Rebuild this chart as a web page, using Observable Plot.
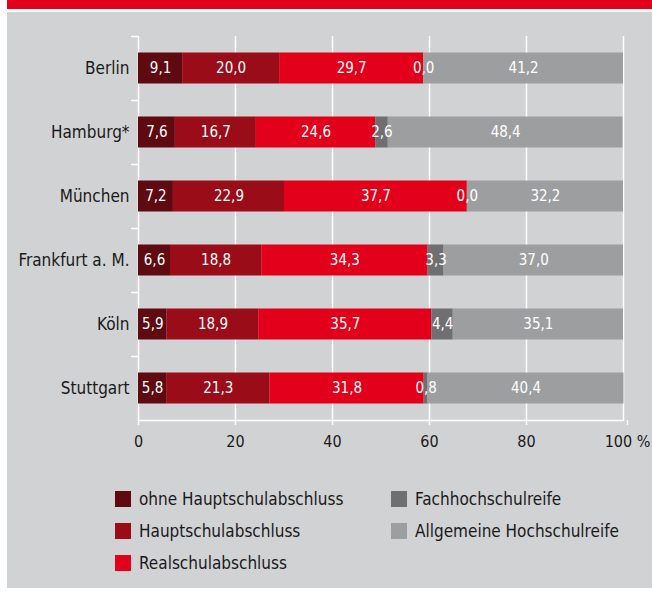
<!DOCTYPE html>
<html>
<head>
<meta charset="utf-8">
<script src="https://cdn.jsdelivr.net/npm/d3@7"></script>
<script src="https://cdn.jsdelivr.net/npm/@observablehq/plot@0.6"></script>
<style>
  html, body { margin: 0; padding: 0; background: #ffffff; }
  body { width: 652px; height: 594px; position: relative; overflow: hidden;
         font-family: "DejaVu Sans Condensed", "DejaVu Sans", sans-serif; font-stretch: condensed; }
  #band { position: absolute; left: 7px; top: 0; width: 645px; height: 9px; background: #e2001a; }
  #panel { position: absolute; left: 7px; top: 12px; width: 645px; height: 576px; background: #d1d2d4; }
  #chart { position: absolute; left: 0; top: 0; }
  #legend { position: absolute; left: 115px; top: 491px; display: grid;
            grid-template-rows: repeat(3, 16px); row-gap: 16px; grid-auto-flow: column;
            grid-template-columns: 276px 250px; }
  .item { display: flex; align-items: center; font-size: 17px; color: #1a1a1a; line-height: 16px; white-space: nowrap; }
  .sw { width: 16px; height: 16px; margin-right: 8px; flex: none; }
</style>
</head>
<body>
<div id="band"></div>
<div id="panel"></div>
<div id="chart"></div>
<div id="legend"></div>
<script>
const cities = ["Berlin", "Hamburg*", "München", "Frankfurt a. M.", "Köln", "Stuttgart"];
const categories = ["ohne Hauptschulabschluss", "Hauptschulabschluss", "Realschulabschluss", "Fachhochschulreife", "Allgemeine Hochschulreife"];
const colors = ["#5e0a10", "#9a0c17", "#e2001a", "#6f6f71", "#9d9ea0"];
const ohneHauptschulabschluss = [9.1, 7.6, 7.2, 6.6, 5.9, 5.8];
const hauptschulabschluss = [20.0, 16.7, 22.9, 18.8, 18.9, 21.3];
const realschulabschluss = [29.7, 24.6, 37.7, 34.3, 35.7, 31.8];
const fachhochschulreife = [0.0, 2.6, 0.0, 3.3, 4.4, 0.8];
const allgemeineHochschulreife = [41.2, 48.4, 32.2, 37.0, 35.1, 40.4];
const xTicks = [0, 20, 40, 60, 80];
const lastTick = [100];

const series = [ohneHauptschulabschluss, hauptschulabschluss, realschulabschluss, fachhochschulreife, allgemeineHochschulreife];
const rows = cities.flatMap((city, i) => categories.map((cat, j) => ({city, cat, value: series[j][i]})));
const fmt = v => v.toFixed(1).replace(".", ",");

const height = 470, marginTop = 36, marginBottom = 50;
const step = (height - marginTop - marginBottom) / cities.length;
const barH = 31;
const inset = (step - barH) / 2;

const chart = Plot.plot({
  width: 652,
  height,
  marginLeft: 138,
  marginRight: 29,
  marginTop,
  marginBottom,
  style: {background: "transparent", fontFamily: "'DejaVu Sans Condensed', 'DejaVu Sans', sans-serif", fontStretch: "condensed", color: "#1a1a1a"},
  x: {domain: [0, 100]},
  y: {domain: cities, padding: 0},
  color: {domain: categories, range: colors},
  marks: [
    Plot.gridX([...xTicks, ...lastTick], {stroke: "white", strokeOpacity: 1, strokeWidth: 1.5}),
    Plot.frame({anchor: "bottom", stroke: "white", strokeWidth: 1.5}),
    Plot.axisX(xTicks, {tickSize: 5, tickPadding: 10, stroke: "white", strokeWidth: 1.5, fill: "#1a1a1a", fontSize: 16, tickFormat: d => String(d), label: null}),
    Plot.axisX(lastTick, {tickSize: 5, tickPadding: 10, stroke: "white", strokeWidth: 1.5, fill: "#1a1a1a", fontSize: 16, tickFormat: d => d + " %", dx: 4, label: null}),
    Plot.axisY({tickSize: 7, stroke: "white", strokeWidth: 1.5, fill: "none", dy: -step / 2, label: null}),
    Plot.axisY({tickSize: 0, tickPadding: 9, fill: "#1a1a1a", fontSize: 17, label: null}),
    Plot.barX(rows, Plot.stackX({y: "city", x: "value", fill: "cat", insetTop: inset, insetBottom: inset})),
    Plot.text(rows, Plot.stackX({y: "city", x: "value", z: "cat", text: d => fmt(d.value), fill: "white", fontSize: 15}))
  ]
});
document.getElementById("chart").appendChild(chart);

const legend = document.getElementById("legend");
categories.forEach((c, i) => {
  const item = document.createElement("div");
  item.className = "item";
  const sw = document.createElement("span");
  sw.className = "sw";
  sw.style.background = colors[i];
  item.appendChild(sw);
  item.appendChild(document.createTextNode(c));
  legend.appendChild(item);
});
</script>
</body>
</html>
